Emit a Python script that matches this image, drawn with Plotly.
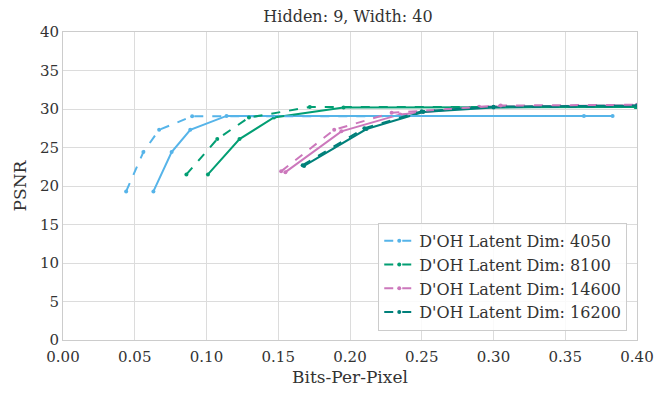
import plotly.graph_objects as go

# Rate-distortion curves.
# Dashed = legend entries, solid = companion runs (not in legend).
LABELS = ["D'OH Latent Dim: 4050", "D'OH Latent Dim: 8100",
          "D'OH Latent Dim: 14600", "D'OH Latent Dim: 16200"]
COLORS = ["#56B4E9", "#029E73", "#CC78BC", "#00807a"]

bpp_4050_dash = [0.044, 0.056, 0.067, 0.090, 0.363]
psnr_4050_dash = [19.3, 24.4, 27.3, 29.05, 29.1]
bpp_4050_solid = [0.063, 0.0757, 0.0887, 0.114, 0.383]
psnr_4050_solid = [19.3, 24.4, 27.3, 29.1, 29.1]

bpp_8100_dash = [0.086, 0.1075, 0.1296, 0.172, 0.399]
psnr_8100_dash = [21.5, 26.1, 28.9, 30.25, 30.25]
bpp_8100_solid = [0.101, 0.123, 0.147, 0.1955, 0.399]
psnr_8100_solid = [21.5, 26.1, 28.9, 30.2, 30.25]

bpp_14600_dash = [0.152, 0.189, 0.229, 0.305, 0.40]
psnr_14600_dash = [21.9, 27.3, 29.5, 30.45, 30.55]
bpp_14600_solid = [0.155, 0.194, 0.235, 0.29, 0.40]
psnr_14600_solid = [21.8, 27.1, 29.3, 30.3, 30.5]

bpp_16200_dash = [0.167, 0.21, 0.25, 0.30, 0.40]
psnr_16200_dash = [22.7, 27.5, 29.7, 30.3, 30.45]
bpp_16200_solid = [0.168, 0.2115, 0.251, 0.30, 0.40]
psnr_16200_solid = [22.6, 27.4, 29.6, 30.2, 30.4]

dashed = [(bpp_4050_dash, psnr_4050_dash), (bpp_8100_dash, psnr_8100_dash),
          (bpp_14600_dash, psnr_14600_dash), (bpp_16200_dash, psnr_16200_dash)]
solid = [(bpp_4050_solid, psnr_4050_solid), (bpp_8100_solid, psnr_8100_solid),
         (bpp_14600_solid, psnr_14600_solid), (bpp_16200_solid, psnr_16200_solid)]

FONT = "DejaVu Serif"

fig = go.Figure()
for (x, y), color, label in zip(solid, COLORS, LABELS):
    fig.add_trace(go.Scatter(
        x=x, y=y, mode="lines+markers", name=label, showlegend=False,
        line=dict(color=color, width=2),
        marker=dict(color=color, size=4),
    ))
for (x, y), color, label in zip(dashed, COLORS, LABELS):
    fig.add_trace(go.Scatter(
        x=x, y=y, mode="lines+markers", name=label,
        line=dict(color=color, width=2, dash="dash"),
        marker=dict(color=color, size=4),
    ))

axis_common = dict(
    showgrid=True, gridcolor="#dcdcdc", gridwidth=1,
    showline=True, linecolor="#cccccc", linewidth=1, mirror=True,
    zeroline=False, ticks="", tickfont=dict(family=FONT, size=15, color="#333"),
)
fig.update_xaxes(range=[0, 0.40], dtick=0.05, tickformat=".2f", ticklabelstandoff=3,
                 title=dict(text="Bits-Per-Pixel", font=dict(family=FONT, size=17, color="#333"),
                            standoff=6),
                 **axis_common)
fig.update_yaxes(range=[0, 40], dtick=5,
                 title=dict(text="PSNR", font=dict(family=FONT, size=17, color="#333"),
                            standoff=8),
                 **axis_common)

fig.update_layout(
    width=664, height=399,
    title=dict(text="Hidden: 9, Width: 40", x=0.512, xanchor="center",
               y=0.993, yanchor="top",
               font=dict(family=FONT, size=16, color="#333")),
    plot_bgcolor="white", paper_bgcolor="white",
    legend=dict(x=0.983, xanchor="right", y=0.03, yanchor="bottom",
                bgcolor="rgba(255,255,255,0.85)", bordercolor="#cccccc", borderwidth=1,
                font=dict(family=FONT, size=16, color="#333"), tracegroupgap=0),
    margin=dict(l=52, r=35, t=24, b=67),
)

fig.write_html("out.html")
